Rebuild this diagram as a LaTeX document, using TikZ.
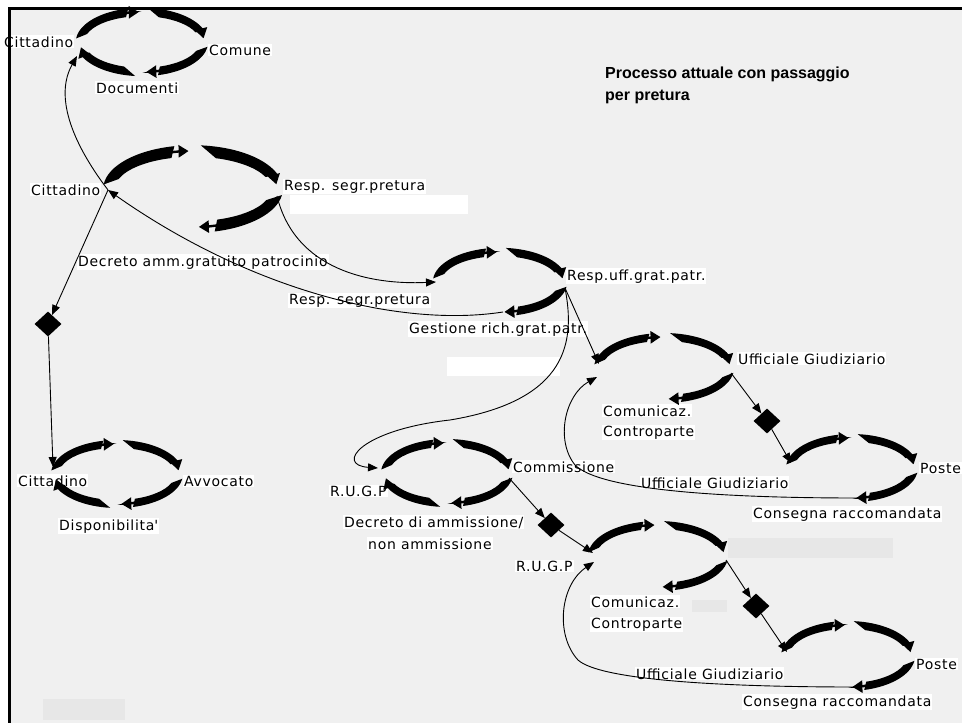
\documentclass[tikz,border=0pt]{standalone}
\usepackage{fontspec}
\setmainfont{DejaVu Sans}
\newfontfamily\labfont[LetterSpace=5]{DejaVu Sans}
\newfontfamily\titfont{Liberation Sans}
\usetikzlibrary{arrows.meta,shapes.geometric,calc}
\definecolor{bggray}{RGB}{240,240,240}
\definecolor{patchgray}{RGB}{231,231,231}

% one thick tapered arc of a loop: cx cy rx ry startangle endangle tipangle halfwidth
\newcommand\warc[8]{%
  \fill ($(#1,#2)+(#5:{#3+#8} and {#4+#8})$)
     arc[start angle=#5, end angle=#6, x radius={#3+#8}, y radius={#4+#8}]
     -- ($(#1,#2)+({#6+4}:{#3-#8} and {#4-#8})$)
     arc[start angle={#6+4}, end angle={#5-12}, x radius={#3-#8}, y radius={#4-#8}]
     -- cycle;
  \draw[line width=2.4pt,-{Triangle[length=10pt,width=12pt]}]
     ($(#1,#2)+({#6+4}:#3 and #4)$)
     arc[start angle={#6+4}, end angle=#7, x radius=#3, y radius=#4];
}
% loop: cx cy rx ry halfwidth (3 or 4 arcs)
\newcommand\wloop[6]{%
  \warc{#1}{#2}{#3}{#4}{174}{102}{93}{#5}%
  \warc{#1}{#2}{#3}{#4}{85}{18}{7}{#5}%
  \warc{#1}{#2}{#3}{#4}{-8}{-76}{-86}{#5}%
  \ifnum#6=4 \warc{#1}{#2}{#3}{#4}{-96}{-160}{-170}{#5}\fi
}

\tikzset{
  lab/.style={font=\labfont\fontsize{14}{16}\selectfont, fill=white, inner sep=1pt, anchor=base west},
  ttl/.style={font=\titfont\bfseries\fontsize{16}{20}\selectfont, inner sep=0pt, anchor=base west},
  conn/.style={draw, line width=0.9pt, -{Triangle[length=10pt,width=8pt]}},
  dia/.style={diamond, fill=black, minimum width=27pt, minimum height=25pt, inner sep=0pt},
}

\begin{document}
\begin{tikzpicture}[x=1pt,y=1pt]
\useasboundingbox (0,0) rectangle (962,-723);
\fill[white] (0,0) rectangle (962,-723);
\fill[bggray] (9,-8) rectangle (962,-723);

% scanned patches
\fill[white] (290,-195) rectangle (468,-214);
\fill[white] (447,-357) rectangle (560,-376);
\fill[patchgray] (728,-538) rectangle (893,-558);
\fill[patchgray] (692,-600) rectangle (727,-612);
\fill[patchgray] (43,-699) rectangle (125,-720);

% title
\node[ttl] (title1) at (605,-78) {Processo attuale con passaggio};
\node[ttl] (title2) at (605,-100) {per pretura};

% labels
\node[lab] (l1a) at (3,-47) {Cittadino};
\node[lab] (l1b) at (208,-55) {Comune};
\node[lab] (l1c) at (95,-93) {Documenti};

\node[lab] (l2a) at (30,-195) {Cittadino};
\node[lab] (l2b) at (283,-190) {Resp. segr.pretura};
\node[lab] (l2c) at (77,-266) {Decreto amm.gratuito patrocinio};
\node[lab] (l2d) at (288,-304) {Resp. segr.pretura};

\node[lab] (l3a) at (566,-280) {Resp.uff.grat.patr.};
\node[lab] (l3b) at (408,-333) {Gestione rich.grat.patr.};

\node[lab] (l4a) at (17,-486) {Cittadino};
\node[lab] (l4b) at (183,-486) {Avvocato};
\node[lab] (l4c) at (58,-530) {Disponibilita\textquotesingle};

\node[lab] (l5a) at (329,-496) {R.U.G.P};
\node[lab] (l5b) at (512,-472) {Commissione};
\node[lab] (l5c) at (343,-527) {Decreto di ammissione/};
\node[lab] (l5d) at (367,-549) {non ammissione};

\node[lab] (l6a) at (737,-364) {Ufficiale Giudiziario};
\node[lab] (l6b) at (602,-416) {Comunicaz.};
\node[lab] (l6c) at (602,-436) {Controparte};

\node[lab] (l7a) at (919,-473) {Poste};
\node[lab] (l7b) at (640,-488) {Ufficiale Giudiziario};
\node[lab] (l7c) at (752,-518) {Consegna raccomandata};

\node[lab] (l8a) at (515,-571) {R.U.G.P};
\node[lab] (l8b) at (590,-607) {Comunicaz.};
\node[lab] (l8c) at (590,-628) {Controparte};

\node[lab] (l9a) at (915,-669) {Poste};
\node[lab] (l9b) at (635,-679) {Ufficiale Giudiziario};
\node[lab] (l9c) at (742,-706) {Consegna raccomandata};

% loops
\wloop{142}{-42}{62}{30}{4.2}{4}
\wloop{193}{-189}{84}{38}{5.8}{3}
\wloop{500}{-282}{63}{30}{4.2}{3}
\wloop{117}{-474}{62}{30}{4}{4}
\wloop{447}{-473}{62}{30}{4}{4}
\wloop{664}{-368}{66}{31}{4}{3}
\wloop{852}{-468}{62}{30}{4}{3}
\wloop{658}{-556}{66}{31}{4}{3}
\wloop{848}{-656}{63}{31}{4}{3}

% connection points of the loops
\coordinate (L1w) at (77,-56);
\coordinate (L2w) at (108,-190);
\coordinate (L2e) at (277,-196);
\coordinate (L3w) at (436,-282);
\coordinate (L3s) at (503,-312);
\coordinate (L3e) at (565,-288);
\coordinate (L4w) at (53,-467);
\coordinate (L5w) at (378,-468);
\coordinate (L5e) at (509,-478);
\coordinate (L6w) at (599,-364);
\coordinate (L6sw) at (597,-377);
\coordinate (L6e) at (731,-373);
\coordinate (L7w) at (791,-463);
\coordinate (L7s) at (858,-498);
\coordinate (L8w) at (593,-553);
\coordinate (L8sw) at (594,-562);
\coordinate (L8e) at (726,-560);
\coordinate (L9w) at (787,-652);
\coordinate (L9s) at (855,-687);

% decision diamonds
\node[dia] (D1) at (48,-324) {};
\node[dia] (D2) at (767,-421) {};
\node[dia] (D3) at (551,-525) {};
\node[dia] (D4) at (756,-606) {};

% connectors
\draw[conn] (L2w) .. controls (70,-140) and (55,-95) .. (L1w);
\draw[conn] (L2w) -- (D1);
\draw[conn] (D1) -- (L4w);
\draw[conn] (L3s) .. controls (400,-328) and (250,-290) .. (L2w);
\draw[conn] (L2e) .. controls (295,-270) and (370,-285) .. (L3w);
\draw[conn] (L3e) -- (L6w);
\draw[conn] (L3e) .. controls (575,-340) and (570,-400) .. (450,-420)
   .. controls (360,-430) and (335,-465) .. (L5w);
\draw[conn] (L5e) -- (D3);
\draw[conn] (D3) -- (L8w);
\draw[conn] (L6e) -- (D2);
\draw[conn] (D2) -- (L7w);
\draw[conn] (L7s) .. controls (720,-498) and (600,-490) .. (575,-465)
   .. controls (555,-440) and (565,-395) .. (L6sw);
\draw[conn] (L8e) -- (D4);
\draw[conn] (D4) -- (L9w);
\draw[conn] (L9s) .. controls (720,-687) and (600,-680) .. (578,-660)
   .. controls (555,-635) and (560,-585) .. (L8sw);

% frame
\draw[line width=3pt] (9,-723) -- (9,-8) -- (962,-8);
\end{tikzpicture}
\end{document}
